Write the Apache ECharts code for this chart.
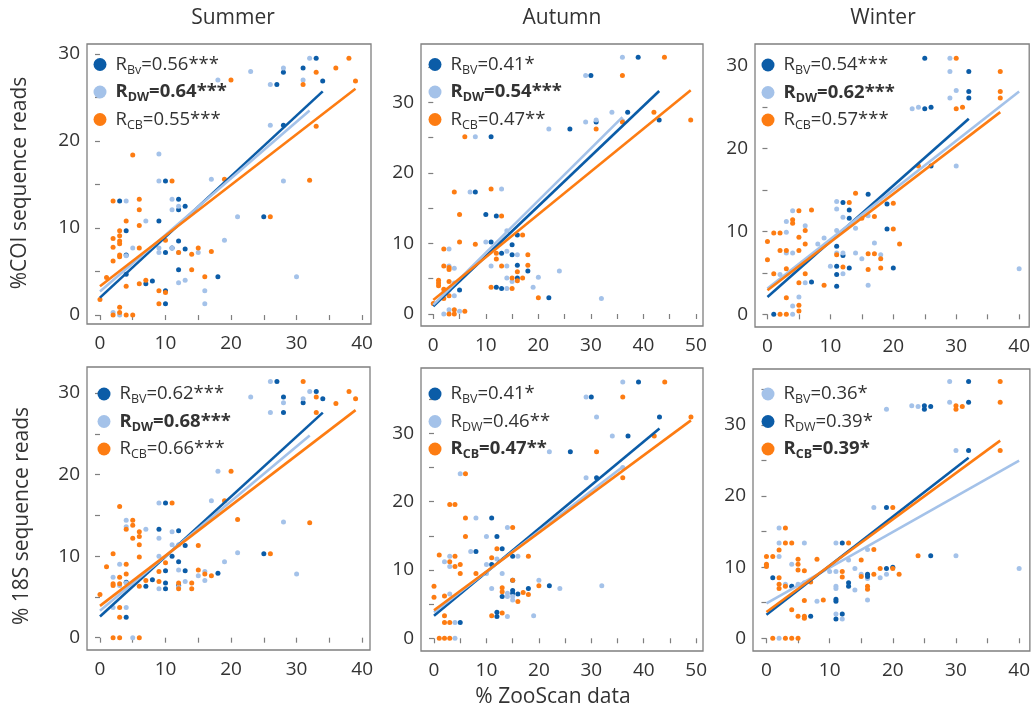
<!DOCTYPE html>
<html><head><meta charset="utf-8">
<script src="https://cdn.jsdelivr.net/npm/echarts@6/dist/echarts.min.js"></script>
<style>html,body{margin:0;padding:0;background:#fff}#c{width:1033px;height:712px}</style>
</head><body><div id="c"></div>
<script>
// ---------- text ----------
const columnTitles = ['Summer', 'Autumn', 'Winter'];
const rowTitles = ['%COI sequence reads', '% 18S sequence reads'];
const xTitle = '% ZooScan data';

// ---------- tick values ----------
const ticks40 = [0, 5, 10, 15, 20, 25, 30, 35, 40];
const labels40 = [0, 10, 20, 30, 40];
const ticks50 = [0, 5, 10, 15, 20, 25, 30, 35, 40, 45, 50];
const labels50 = [0, 10, 20, 30, 40, 50];
const ticksY30 = [0, 5, 10, 15, 20, 25, 30];
const ticksY35 = [0, 5, 10, 15, 20, 25, 30, 35];
const labelsY30 = [0, 10, 20, 30];

// ---------- legend labels: [subscript, value, bold] ----------
const legSummerCOI = [['Bv', '0.56***', false], ['DW', '0.64***', true], ['CB', '0.55***', false]];
const legAutumnCOI = [['BV', '0.41*', false], ['DW', '0.54***', true], ['CB', '0.47**', false]];
const legWinterCOI = [['BV', '0.54***', false], ['DW', '0.62***', true], ['CB', '0.57***', false]];
const legSummer18S = [['BV', '0.62***', false], ['DW', '0.68***', true], ['CB', '0.66***', false]];
const legAutumn18S = [['BV', '0.41*', false], ['DW', '0.46**', false], ['CB', '0.47**', true]];
const legWinter18S = [['BV', '0.36*', false], ['DW', '0.39*', false], ['CB', '0.39*', true]];

// ---------- Summer COI ----------
const summerCOI_BV = [[33,29.5],[31,28.4],[28,27.9],[27,26.5],[34,26.9],[28,21.8],[10,15.4],[12,13.3],[12,12.1],[13,12.5],[9,10.8],[4,9.7],[12,8.5],[10,7.2],[11,7.7],[13,7.6],[25,11.3],[12,5.2],[18,4.4],[8,3.9],[7,3.6],[4,4.7],[4,6.9],[10,2.8],[10,1.3],[3,13.1]];
const summerCOI_DW = [[18,27],[23,28],[26,26.5],[28,28.4],[31,27],[32,29.5],[26,21.8],[28,15.4],[9,18.5],[9,15.4],[4,13.1],[11,13.3],[11,12.1],[12,12.5],[7,10.8],[17,15.6],[21,11.3],[19,8.6],[5,7.7],[9,7.7],[9,7.2],[11,7.7],[12,7.2],[15,7.2],[4,6.8],[12,3.7],[13,4.0],[16,2.8],[16,1.3],[2,0.3],[3,0],[30,4.4]];
const summerCOI_CB = [[20,27],[38,29.5],[36,28.4],[33,27.9],[31,26.5],[39,26.9],[33,21.7],[32,15.5],[26,11.3],[19,15.6],[11,15.4],[5,18.4],[2,13.1],[6,13.3],[6,12.1],[6,10.3],[4,10.8],[3,9.7],[3,9.1],[3,8.5],[3,8.2],[2,8.8],[2,7.8],[2,6.2],[3,6.9],[3,6.7],[6,7.7],[10,8.6],[12,7.2],[14,7.0],[15,7.7],[17,7.3],[14,5.2],[16,4.4],[4,3.3],[6,3.6],[7,4.0],[9,2.8],[10,2.6],[9,1.3],[0,1.8],[1,4.3],[3,0.9],[3,0.3],[2,0],[4,0],[5,0]];
const summerCOI_fitBV = [[0,2.0],[34,25.7]];
const summerCOI_fitDW = [[0,2.7],[32,23.5]];
const summerCOI_fitCB = [[0,3.3],[39,26.0]];

// ---------- Autumn COI ----------
const autumnCOI_BV = [[39,36.4],[30,33.8],[37,28.6],[31,27.2],[43,27.5],[26,26.2],[11,25.1],[8,17.3],[10,14.1],[12,13.9],[16,11.2],[11,10.2],[15,9.8],[13,8.6],[15,8.4],[16,6.9],[16,5.1],[18,6.1],[12,3.8],[13,3.6],[22,2.3],[5,3.4]];
const autumnCOI_DW = [[36,36.4],[29,33.8],[34,28.6],[29,27.2],[31,27.5],[22,26.2],[8,25.1],[36,27.4],[7,17.3],[13,17.7],[14,11.8],[10,10.2],[3,9.2],[14,8.9],[16,8.4],[11,6.8],[14,6.8],[3,6.8],[4,6.5],[14,5.1],[20,5.2],[24,6.1],[14,3.6],[19,3.8],[32,2.2],[2,0],[3,0.6],[5,0.4],[3,3.4],[4,4.4],[4,2.6],[2,3.0],[15,4.6]];
const autumnCOI_CB = [[44,36.4],[36,33.8],[42,28.6],[31,26.2],[49,27.5],[36,27.2],[6,25.1],[4,17.3],[11,17.7],[5,14.1],[13,13.9],[17,11.2],[5,10.2],[8,9.9],[2,9.2],[12,8.6],[18,8.4],[12,7.8],[13,6.8],[18,6.9],[2,6.8],[3,6.6],[3,6.3],[17,5.1],[16,4.7],[11,3.8],[15,3.6],[20,2.3],[1,4.8],[1,4.4],[1,4.0],[2,3.5],[3,4.6],[3,2.6],[2,2.2],[0,1.5],[3,0],[4,0],[4,0.6],[6,0.4],[16,6.0],[15,5.1]];
const autumnCOI_fitBV = [[0,1.1],[43,31.6]];
const autumnCOI_fitDW = [[0,1.3],[36,27.9]];
const autumnCOI_fitCB = [[0,2.0],[49,31.7]];

// ---------- Winter COI ----------
const winterCOI_BV = [[25,30.9],[32,29.3],[32,26.9],[32,26.1],[25,24.8],[26,25.0],[26,17.9],[16,14.5],[12,13.5],[19,13.3],[13,12.6],[13,11.6],[19,10.3],[11,8.2],[12,7.1],[11,5.8],[11,4.8],[11,3.4],[13,5.6],[20,5.6],[7,3.9],[1,0]];
const winterCOI_DW = [[29,30.9],[29,29.3],[30,27],[29,26.1],[23,24.8],[24,25.0],[30,17.9],[40,5.5],[11,13.6],[11,12.7],[12,11.7],[16,11.9],[4,12.5],[3,11.2],[6,10.7],[3,9.9],[9,9.2],[8,8.5],[11,10.1],[14,10.4],[17,8.6],[18,7.2],[15,6.7],[14,7.4],[12,7.4],[11,7.4],[10,5.8],[12,4.9],[16,3.5],[6,3.8],[5,2.1],[4,1.0],[4,0],[2,4.8],[3,7.4],[4,7.4]];
const winterCOI_CB = [[30,30.9],[37,29.3],[37,26.9],[37,26.1],[30,24.8],[31,25.0],[24,17.9],[14,14.6],[13,13.5],[20,13.4],[15,11.6],[17,11.8],[20,10.3],[21,8.5],[12,5.7],[16,5.4],[18,5.6],[11,7.2],[16,7.3],[17,7.3],[18,6.7],[0,6.6],[0,8.8],[1,4.9],[1,9.8],[2,9.8],[2,7.7],[3,7.7],[3,5.5],[4,11.4],[4,11.0],[5,7.7],[5,9.3],[5,12.5],[7,12.6],[6,10.1],[6,8.5],[6,4.9],[5,3.8],[9,3.5],[3,2.0],[5,1.1],[5,0.4],[2,0],[3,0]];
const winterCOI_fitBV = [[0,2.1],[32,23.6]];
const winterCOI_fitDW = [[0,3.1],[40,26.9]];
const winterCOI_fitCB = [[0,2.9],[37,24.4]];

// ---------- Summer 18S ----------
const summer18S_BV = [[27,31.4],[33,30.2],[28,29.5],[31,28.8],[28,27.6],[34,29.3],[25,10.3],[10,16.5],[9,13.3],[12,13.1],[13,11.3],[11,10.0],[12,9.3],[10,8.2],[13,8.2],[18,7.9],[7,6.3],[10,6.7],[10,6.0],[12,6.4],[4,6.8],[4,2.5],[8,7.1]];
const summer18S_DW = [[26,31.4],[32,30.2],[23,29.5],[28,28.8],[31,29.3],[26,27.6],[18,20.4],[28,14.2],[30,7.8],[21,10.4],[19,9.3],[17,16.8],[9,16.5],[4,14.4],[4,13.6],[7,13.3],[9,12.2],[11,13.0],[11,11.4],[12,11.4],[3,9.0],[9,10.0],[2,7.4],[4,6.7],[9,6.0],[12,8.3],[16,8.1],[15,7.6],[13,6.9],[12,6.2],[2,3.7],[4,3.7],[5,0],[16,7.0],[3,6.4]];
const summer18S_CB = [[31,31.4],[38,30.2],[33,29.5],[36,28.7],[39,29.3],[33,27.6],[20,20.4],[19,16.8],[21,14.5],[32,14.1],[26,10.3],[3,16.1],[11,16.5],[5,14.4],[5,13.8],[4,13.3],[6,13.0],[6,12.4],[5,12.2],[6,11.4],[6,9.9],[15,11.3],[2,10.3],[1,8.7],[4,9.0],[3,7.4],[4,7.8],[9,6.9],[10,9.2],[15,8.3],[16,7.8],[17,7.6],[2,6.6],[2,6.4],[3,6.6],[6,6.3],[12,6.7],[12,6.0],[14,6.7],[14,6.0],[0,5.3],[3,3.7],[3,2.5],[2,0],[3,0],[6,0],[9,8.1],[7,7.0]];
const summer18S_fitBV = [[0,2.6],[34,27.6]];
const summer18S_fitDW = [[0,3.3],[32,24.8]];
const summer18S_fitCB = [[0,3.9],[39,27.9]];

// ---------- Autumn 18S ----------
const autumn18S_BV = [[39,37.5],[30,35.3],[43,32.4],[37,29.6],[31,23.5],[26,27.3],[11,17.6],[12,14.9],[8,12.7],[13,13.1],[11,10.8],[15,12.0],[15,8.5],[22,7.7],[18,7.3],[15,7.0],[15,6.6],[13,6.1],[16,6.5],[12,3.8],[12,3.2],[5,2.3]];
const autumn18S_DW = [[36,37.5],[29,35.3],[31,32.4],[34,29.6],[22,27.3],[29,23.5],[36,25.0],[5,24.1],[8,17.6],[10,14.9],[14,16.2],[7,12.7],[3,12.0],[2,11.2],[3,10.5],[10,10.8],[12,11.6],[16,12.0],[10,9.5],[13,9.5],[20,8.5],[24,7.3],[32,7.7],[14,6.6],[14,6.1],[15,6.1],[19,3.3],[14,3.2],[4,2.3],[4,0],[11,7.3],[3,6.5],[15,5.6]];
const autumn18S_CB = [[44,37.5],[36,35.3],[49,32.4],[42,29.6],[31,27.3],[36,23.5],[6,24.1],[3,19.6],[4,19.6],[6,17.6],[6,14.9],[15,16.2],[12,13.1],[1,12.2],[4,12.0],[3,11.2],[4,10.5],[5,10.8],[5,9.5],[11,11.8],[18,12.0],[8,9.5],[20,7.7],[13,7.4],[17,6.7],[16,5.4],[13,6.8],[11,3.3],[13,3.7],[2,2.3],[3,2.3],[2,3.3],[0,7.6],[0,6.0],[2,6.2],[1,0],[2,0],[3,0],[15,8.5],[18,6.4]];
const autumn18S_fitBV = [[0,3.3],[43,30.7]];
const autumn18S_fitDW = [[0,3.8],[36,25.1]];
const autumn18S_fitCB = [[0,4.1],[49,31.9]];

// ---------- Winter 18S ----------
const winter18S_BV = [[29,36.1],[29,33.2],[19,32.2],[23,32.7],[24,32.6],[30,26.4],[30,11.6],[40,9.8],[17,18.4],[2,15.5],[2,13.4],[6,13.4],[11,13.4],[2,11.5],[16,12.5],[13,11.0],[4,10.4],[10,9.4],[11,9.4],[14,9.8],[15,9.0],[3,7.6],[6,7.8],[8,5.2],[11,3.4],[12,2.7],[16,5.4],[2,0],[11,7.3],[11,7.0],[14,6.8],[18,8.5],[19,9.0],[16,8.4],[4,7.3],[5,7.6]];
const winter18S_DW = [[32,36.1],[32,33.2],[25,32.7],[25,32.2],[26,32.6],[32,26.4],[26,11.6],[19,18.4],[12,13.4],[19,9.8],[20,10.0],[16,9.0],[16,8.7],[13,7.8],[13,7.3],[1,8.5],[4,7.3],[7,3.1],[12,3.4],[11,2.7],[11,5.2],[11,5.5]];
const winter18S_CB = [[37,36.1],[37,33.2],[30,32.7],[30,32.2],[31,32.6],[37,26.4],[24,11.6],[20,18.4],[3,15.5],[3,13.4],[4,13.4],[13,13.4],[2,12.4],[1,11.5],[0,11.5],[0,10.4],[0,10.1],[8,11.1],[5,11.1],[5,10.4],[5,9.6],[6,9.5],[17,12.5],[15,11.0],[12,9.4],[18,9.8],[20,9.8],[21,9.0],[17,9.0],[15,8.7],[2,8.5],[2,7.6],[2,7.0],[3,7.3],[7,7.9],[6,5.3],[4,4.0],[9,5.4],[6,3.1],[6,2.8],[5,3.1],[1,0],[3,0],[4,0],[5,0],[16,7.3],[16,6.9],[12,8.6]];
const winter18S_fitBV = [[0,4.9],[40,25.0]];
const winter18S_fitDW = [[0,3.3],[32,25.4]];
const winter18S_fitCB = [[0,3.7],[37,27.8]];

// ---------- styling ----------
const FONT = "'Open Sans', sans-serif";
const DARK = '#0b5ca7', LIGHT = '#a4c2e9', ORANGE = '#fd7c12';
const AXIS_GRAY = '#7f7f7f', TEXT = '#333333';

const panels = [
  { g: [87, 44, 284, 280], x: [-1.98, 41.37], y: [-1.03, 31.15], xt: ticks40, xl: labels40, yt: ticksY30, yl: labelsY30,
    s: [summerCOI_BV, summerCOI_DW, summerCOI_CB], f: [summerCOI_fitBV, summerCOI_fitDW, summerCOI_fitCB], c: [DARK, LIGHT, ORANGE], leg: legSummerCOI, lo: [6.5, 11] },
  { g: [421, 44, 282, 282], x: [-2.34, 51.34], y: [-1.70, 38.26], xt: ticks50, xl: labels50, yt: ticksY35, yl: labelsY30,
    s: [autumnCOI_BV, autumnCOI_DW, autumnCOI_CB], f: [autumnCOI_fitBV, autumnCOI_fitDW, autumnCOI_fitCB], c: [DARK, LIGHT, ORANGE], leg: legAutumnCOI, lo: [7.5, 11] },
  { g: [755, 44, 280, 283], x: [-1.98, 41.6], y: [-1.53, 32.62], xt: ticks40, xl: labels40, yt: ticksY30, yl: labelsY30,
    s: [winterCOI_BV, winterCOI_DW, winterCOI_CB], f: [winterCOI_fitBV, winterCOI_fitDW, winterCOI_fitCB], c: [DARK, LIGHT, ORANGE], leg: legWinterCOI, lo: [6.5, 11.5] },
  { g: [87, 367, 283, 283], x: [-1.98, 41.2], y: [-1.51, 33.19], xt: ticks40, xl: labels40, yt: ticksY30, yl: labelsY30,
    s: [summer18S_BV, summer18S_DW, summer18S_CB], f: [summer18S_fitBV, summer18S_fitDW, summer18S_fitCB], c: [DARK, LIGHT, ORANGE], leg: legSummer18S, lo: [10.5, 17.5] },
  { g: [421, 368, 282, 283], x: [-2.48, 51.3], y: [-1.86, 39.56], xt: ticks50, xl: labels50, yt: ticksY35, yl: labelsY30,
    s: [autumn18S_BV, autumn18S_DW, autumn18S_CB], f: [autumn18S_fitBV, autumn18S_fitDW, autumn18S_fitCB], c: [DARK, LIGHT, ORANGE], leg: legAutumn18S, lo: [7.5, 16.5] },
  { g: [753, 369, 282, 282], x: [-2.13, 41.7], y: [-1.79, 37.87], xt: ticks40, xl: labels40, yt: ticksY35, yl: labelsY30,
    s: [winter18S_BV, winter18S_DW, winter18S_CB], f: [winter18S_fitBV, winter18S_fitDW, winter18S_fitCB], c: [LIGHT, DARK, ORANGE], leg: legWinter18S, lo: [8.5, 15.5] }
];

const keys = ['BV', 'DW', 'CB'];
const grid = [], xAxis = [], yAxis = [], series = [], legend = [];
const legendMap = {};

panels.forEach((p, i) => {
  grid.push({ left: p.g[0], top: p.g[1], width: p.g[2], height: p.g[3], show: true, borderColor: AXIS_GRAY, borderWidth: 1.3, backgroundColor: 'rgba(0,0,0,0)' });
  xAxis.push({
    type: 'value', gridIndex: i, min: p.x[0], max: p.x[1],
    axisLine: { show: false }, splitLine: { show: false },
    axisTick: { show: true, inside: false, length: 5, customValues: p.xt, lineStyle: { color: AXIS_GRAY, width: 1.2 } },
    axisLabel: { customValues: p.xl, margin: 10, fontSize: 19, color: TEXT, fontFamily: FONT }
  });
  yAxis.push({
    type: 'value', gridIndex: i, min: p.y[0], max: p.y[1],
    axisLine: { show: false }, splitLine: { show: false },
    axisTick: { show: true, inside: false, length: 5, customValues: p.yt, lineStyle: { color: AXIS_GRAY, width: 1.2 } },
    axisLabel: { customValues: p.yl, margin: 7, fontSize: 19, color: TEXT, fontFamily: FONT }
  });
  const names = [];
  keys.forEach((k, j) => {
    const nm = 'p' + i + '_' + k;
    names.push({ name: nm, icon: 'circle', itemStyle: { color: p.c[j] } });
    legendMap[nm] = p.leg[j];
    series.push({ type: 'scatter', name: nm, xAxisIndex: i, yAxisIndex: i, data: p.s[j], symbolSize: 5,
      itemStyle: { color: p.c[j], opacity: 1 }, z: 2, silent: true });
  });
  keys.forEach((k, j) => {
    series.push({ type: 'line', name: 'p' + i + '_' + k + '_fit', xAxisIndex: i, yAxisIndex: i, data: p.f[j],
      symbol: 'none', showSymbol: false, lineStyle: { width: 2.6, color: p.c[j] }, itemStyle: { color: p.c[j] }, z: 3, silent: true });
  });
  legend.push({
    data: names, orient: 'vertical', left: p.g[0] + p.lo[0], top: p.g[1] + p.lo[1], padding: 0,
    itemWidth: 13, itemHeight: 13, itemGap: 6, selectedMode: false,
    formatter: function (name) {
      const L = legendMap[name];
      if (L[2]) return '{rf|R}{sb|' + L[0] + '}{rb|=' + L[1] + '}';
      return '{r0|R}{s|' + L[0] + '}{r|=' + L[1] + '}';
    },
    textStyle: {
      fontFamily: FONT, color: TEXT,
      rich: {
        r0: { fontSize: 18.5, fontFamily: FONT, color: TEXT, lineHeight: 24, padding: [0, 0, 0, 4] },
        r: { fontSize: 18.5, fontFamily: FONT, color: TEXT, lineHeight: 24 },
        rf: { fontSize: 18.5, fontFamily: FONT, color: TEXT, lineHeight: 24, fontWeight: 'bold', padding: [0, 0, 0, 4] },
        rb: { fontSize: 18.5, fontFamily: FONT, color: TEXT, lineHeight: 24, fontWeight: 'bold' },
        s: { fontSize: 12.5, fontFamily: FONT, color: TEXT, lineHeight: 13, verticalAlign: 'bottom' },
        sb: { fontSize: 12.5, fontFamily: FONT, color: TEXT, lineHeight: 13, verticalAlign: 'bottom', fontWeight: 'bold' }
      }
    }
  });
});

const colCenters = [233, 562, 883];
const graphic = [];
columnTitles.forEach((t, i) => graphic.push({ type: 'text', x: colCenters[i], y: 18, style: { text: t, fontSize: 21, fontFamily: FONT, fill: TEXT, textAlign: 'center', textVerticalAlign: 'middle' } }));
const rowCenters = [[20, 183], [22, 516]];
rowTitles.forEach((t, i) => graphic.push({ type: 'text', x: rowCenters[i][0], y: rowCenters[i][1], rotation: Math.PI / 2, style: { text: t, fontSize: 21, fontFamily: FONT, fill: TEXT, textAlign: 'center', textVerticalAlign: 'middle' } }));
graphic.push({ type: 'text', x: 553, y: 697, style: { text: xTitle, fontSize: 21, fontFamily: FONT, fill: TEXT, textAlign: 'center', textVerticalAlign: 'middle' } });

const chart = echarts.init(document.getElementById('c'), null, { renderer: 'canvas' });
chart.setOption({ animation: false, backgroundColor: '#ffffff', grid, xAxis, yAxis, series, legend, graphic });
</script></body></html>
